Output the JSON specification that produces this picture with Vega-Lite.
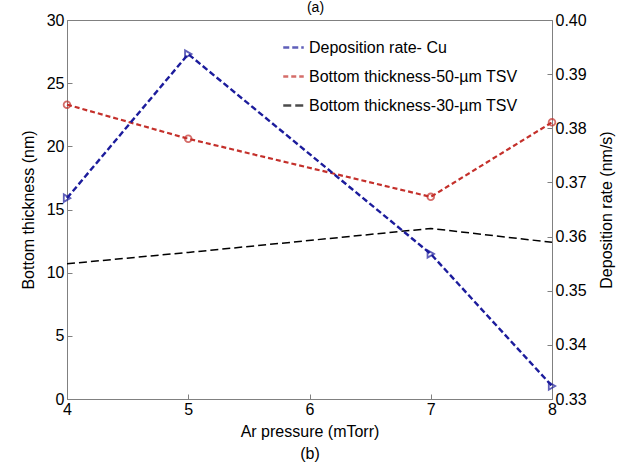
{
  "$schema": "https://vega.github.io/schema/vega-lite/v6.json",
  "width": 485,
  "height": 379,
  "autosize": "none",
  "padding": {"left": 67, "top": 20, "right": 77, "bottom": 68},
  "background": "white",
  "config": {
    "font": "Liberation Sans",
    "view": {"stroke": "#808080", "strokeWidth": 1},
    "axis": {
      "grid": false,
      "labelFontSize": 16,
      "labelColor": "#000000",
      "titleFontSize": 16,
      "titleFontWeight": "normal",
      "titleColor": "#000000",
      "domainColor": "#808080",
      "tickColor": "#808080",
      "tickSize": -5,
      "labelPadding": 8
    }
  },
  "title": {
    "text": "(a)",
    "fontSize": 14,
    "fontWeight": "normal",
    "font": "Liberation Sans",
    "anchor": "middle",
    "offset": 3,
    "dy": 6,
    "dx": 6
  },
  "data": {
    "values": [
      {"series": "Deposition rate- Cu", "p": 4, "v": 0.3671},
      {"series": "Deposition rate- Cu", "p": 5, "v": 0.3937},
      {"series": "Deposition rate- Cu", "p": 7, "v": 0.3568},
      {"series": "Deposition rate- Cu", "p": 8, "v": 0.3324},
      {"series": "Bottom thickness-50-µm TSV", "p": 4, "v": 23.3},
      {"series": "Bottom thickness-50-µm TSV", "p": 5, "v": 20.6},
      {"series": "Bottom thickness-50-µm TSV", "p": 7, "v": 16.0},
      {"series": "Bottom thickness-50-µm TSV", "p": 8, "v": 21.9},
      {"series": "Bottom thickness-30-µm TSV", "p": 4, "v": 10.7},
      {"series": "Bottom thickness-30-µm TSV", "p": 5, "v": 11.6},
      {"series": "Bottom thickness-30-µm TSV", "p": 7, "v": 13.5},
      {"series": "Bottom thickness-30-µm TSV", "p": 8, "v": 12.4}
    ]
  },
  "encoding": {
    "x": {
      "field": "p",
      "type": "quantitative",
      "scale": {"domain": [4, 8], "nice": false},
      "axis": {
        "values": [4, 5, 6, 7, 8],
        "title": ["Ar pressure (mTorr)", "(b)"],
        "titleLineHeight": 22,
        "titlePadding": 6,
        "labelPadding": 7,
        "labelFlush": false
      }
    },
    "color": {
      "field": "series",
      "type": "nominal",
      "scale": {
        "domain": ["Deposition rate- Cu", "Bottom thickness-50-µm TSV", "Bottom thickness-30-µm TSV"],
        "range": ["#1c1c9c", "#c4302b", "#000000"]
      },
      "legend": {
        "title": null,
        "orient": "none",
        "legendX": 211,
        "legendY": 12,
        "fillColor": "white",
        "padding": 4,
        "labelFontSize": 16,
        "labelColor": "#000000",
        "labelFont": "Liberation Sans",
        "labelLimit": 400,
        "symbolType": "stroke",
        "symbolSize": 420,
        "symbolStrokeWidth": 2.5,
        "rowPadding": 9,
        "labelOffset": 4
      }
    }
  },
  "layer": [
    {
      "transform": [{"filter": "datum.series !== 'Deposition rate- Cu'"}],
      "encoding": {
        "y": {
          "field": "v",
          "type": "quantitative",
          "scale": {"domain": [0, 30], "nice": false},
          "axis": {
            "orient": "left",
            "values": [0, 5, 10, 15, 20, 25, 30],
            "title": "Bottom thickness (nm)",
            "titlePadding": 10
          }
        }
      },
      "layer": [
        {
          "transform": [{"filter": "datum.series === 'Bottom thickness-50-µm TSV'"}],
          "mark": {"type": "line", "strokeWidth": 2.2},
          "encoding": {
            "strokeDash": {
              "field": "series",
              "type": "nominal",
              "scale": {
                "domain": ["Deposition rate- Cu", "Bottom thickness-50-µm TSV", "Bottom thickness-30-µm TSV"],
                "range": [[6, 3], [5, 3], [8, 4]]
              }
            }
          }
        },
        {
          "transform": [{"filter": "datum.series === 'Bottom thickness-50-µm TSV'"}],
          "mark": {"type": "point", "shape": "circle", "filled": false, "size": 45, "strokeWidth": 1.8}
        },
        {
          "transform": [{"filter": "datum.series === 'Bottom thickness-30-µm TSV'"}],
          "mark": {"type": "line", "strokeWidth": 1.5},
          "encoding": {
            "strokeDash": {
              "field": "series",
              "type": "nominal",
              "scale": {
                "domain": ["Deposition rate- Cu", "Bottom thickness-50-µm TSV", "Bottom thickness-30-µm TSV"],
                "range": [[6, 3], [5, 3], [8, 4]]
              }
            }
          }
        }
      ]
    },
    {
      "transform": [{"filter": "datum.series === 'Deposition rate- Cu'"}],
      "encoding": {
        "y": {
          "field": "v",
          "type": "quantitative",
          "scale": {"domain": [0.33, 0.40], "nice": false, "zero": false},
          "axis": {
            "orient": "right",
            "values": [0.33, 0.34, 0.35, 0.36, 0.37, 0.38, 0.39, 0.40],
            "format": ".2f",
            "title": "Deposition rate (nm/s)",
            "titleAngle": 270,
            "titlePadding": 28
          }
        }
      },
      "layer": [
        {
          "mark": {"type": "line", "strokeWidth": 2.4},
          "encoding": {
            "strokeDash": {
              "field": "series",
              "type": "nominal",
              "scale": {
                "domain": ["Deposition rate- Cu", "Bottom thickness-50-µm TSV", "Bottom thickness-30-µm TSV"],
                "range": [[6, 3], [5, 3], [8, 4]]
              }
            }
          }
        },
        {"mark": {"type": "point", "shape": "triangle-right", "filled": false, "size": 55, "strokeWidth": 1.8}}
      ]
    }
  ],
  "resolve": {"scale": {"y": "independent"}}
}
